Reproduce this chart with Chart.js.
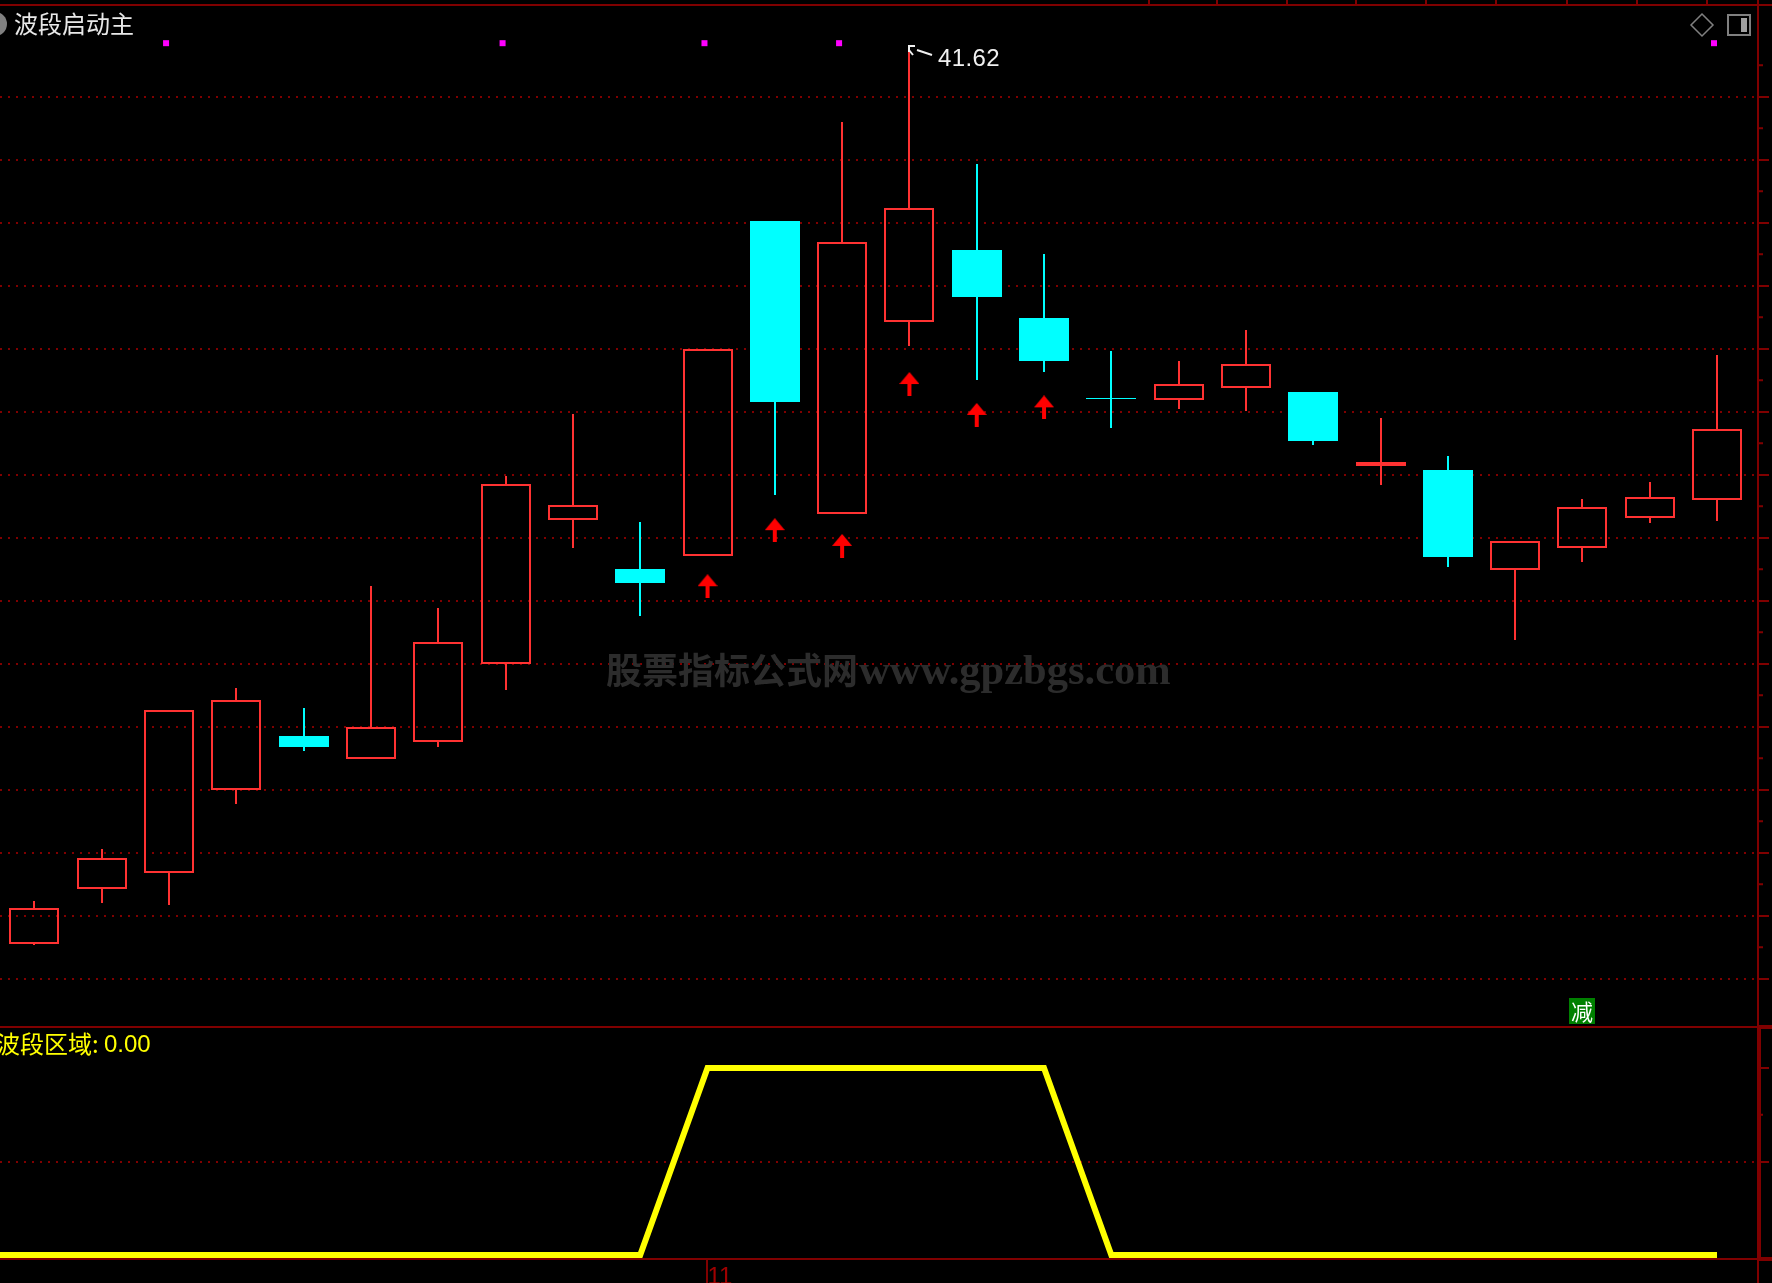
<!DOCTYPE html>
<html>
<head>
<meta charset="utf-8">
<title>波段启动主</title>
<script src="https://cdn.jsdelivr.net/npm/chart.js@4/dist/chart.umd.min.js"></script>
<style>
  html, body { margin: 0; padding: 0; background: #000; overflow: hidden; }
  canvas { display: block; }
</style>
</head>
<body>
<canvas id="kline" width="1772" height="1283"></canvas>
<script>
// K LINE DATA (bar 13 is the marked 41.62 high)
var opens  = [27.46, 28.34, 28.59, 29.90, 30.77, 30.39, 30.66, 31.90, 34.19, 33.42, 33.62, 38.93, 34.28, 37.33, 38.48, 37.40, 36.13, 36.09, 36.29, 36.22, 35.05, 34.98, 33.40, 33.74, 34.23, 34.51];
var closes = [28.04, 28.83, 31.18, 31.34, 30.59, 30.90, 32.26, 34.77, 34.43, 33.19, 36.90, 36.06, 38.61, 39.15, 37.73, 36.72, 36.11, 36.35, 36.67, 35.45, 35.11, 33.60, 33.86, 34.39, 34.55, 35.63];
var highs  = [28.15, 28.97, 31.18, 31.52, 31.20, 33.15, 32.79, 34.89, 35.88, 34.16, 36.90, 38.93, 40.51, 41.62, 39.84, 38.41, 36.88, 36.72, 37.21, 36.22, 35.81, 35.20, 33.86, 34.53, 34.79, 36.81];
var lows   = [27.45, 28.11, 28.08, 29.69, 30.52, 30.39, 30.59, 31.50, 33.75, 32.67, 33.62, 34.59, 34.28, 36.96, 36.42, 36.54, 35.65, 35.95, 35.92, 35.38, 34.75, 33.44, 32.29, 33.53, 34.14, 34.18];

// ARROWS AND SIGNAL DOTS
var arrowBars   = [10, 11, 12, 13, 14, 15];
var arrowPrices = [33.14, 34.03, 33.78, 36.35, 35.86, 35.98];
var dotBars     = [2, 7, 10, 12, 25];
var dotPrice    = 41.76;

// LOWER PANEL, first value is the bar before the visible window
var waveZone = [0, 0, 0, 0, 0, 0, 0, 0, 0, 0, 0, 1, 1, 1, 1, 1, 1, 0, 0, 0, 0, 0, 0, 0, 0, 0, 0];

// AXES
var priceLevels = [40.91, 39.91, 38.91, 37.91, 36.91, 35.91, 34.91, 33.91, 32.91, 31.91, 30.91, 29.91, 28.91, 27.91, 26.91];
var priceMinor  = [41.41, 40.41, 39.41, 38.41, 37.41, 36.41, 35.41, 34.41, 33.41, 32.41, 31.41, 30.41, 29.41, 28.41, 27.41];
var waveLevels  = [1, 0.5];
var waveMinor   = [0.75];
var monthBars   = [10];
var monthLabels = ["11"];
var topTicks    = [1148, 1216, 1286, 1355, 1425, 1495, 1566, 1636, 1706];

var RED = "#ff3232";
var CYAN = "#00ffff";
var FRAME = "#800000";

var bars = opens.map(function (v, i) { return i; });

function toBars(lo, hi) {
  return bars.map(function (i) { return { x: i, y: [lo[i], hi[i]] }; });
}
var bodyTop = bars.map(function (i) { return Math.max(opens[i], closes[i]); });
var bodyBottom = bars.map(function (i) { return Math.min(opens[i], closes[i]); });
var isUp = bars.map(function (i) { return closes[i] >= opens[i]; });
var barColors = isUp.map(function (u) { return u ? RED : CYAN; });
var bodyFill = isUp.map(function (u) { return u ? "transparent" : CYAN; });

// pixel arrow, used as a point style
var arrow = document.createElement("canvas");
arrow.width = 20;
arrow.height = 24;
var ac = arrow.getContext("2d");
ac.fillStyle = "#ff0000";
ac.beginPath();
ac.moveTo(10, 0);
ac.lineTo(20, 12);
ac.lineTo(0, 12);
ac.fill();
ac.fillRect(8, 12, 4, 12);

function hline(ctx, x1, x2, y, w) {
  ctx.fillRect(x1, y - w / 2, x2 - x1, w);
}

// keep the bars on whole pixels, the original is not antialiased
var snapBars = {
  id: "snapBars",
  afterDatasetsUpdate: function (chart) {
    chart.data.datasets.forEach(function (ds, i) {
      if (ds.type !== "bar") return;
      chart.getDatasetMeta(i).data.forEach(function (el) {
        el.x = Math.round(el.x);
        el.y = Math.round(el.y);
        el.base = Math.round(el.base);
      });
    });
  }
};

var panelDecor = {
  id: "panelDecor",
  beforeDatasetsDraw: function (chart) {
    var ctx = chart.ctx;
    ctx.save();
    ctx.fillStyle = "#2c2c2c";
    ctx.textBaseline = "alphabetic";
    ctx.font = "bold 36px 'Noto Sans CJK SC'";
    ctx.fillText("股票指标公式网", 606, 684);
    ctx.font = "bold 42.5px 'Liberation Serif'";
    ctx.fillText("www.gpzbgs.com", 859, 684);
    ctx.restore();
  },
  afterDraw: function (chart) {
    var ctx = chart.ctx;
    var xs = chart.scales.x, ys = chart.scales.y, ys2 = chart.scales.y2;
    ctx.save();

    // frame lines
    ctx.fillStyle = FRAME;
    hline(ctx, 0, 1772, ys.top, 2);
    hline(ctx, 0, 1757, ys2.top, 2);
    hline(ctx, 1757, 1772, ys2.top, 4);
    hline(ctx, 0, 1757, ys2.bottom, 2);
    hline(ctx, 1757, 1772, ys2.bottom, 4);
    ctx.fillRect(1757, 0, 2, 1283);
    ctx.fillRect(1757, ys2.top, 4, ys2.bottom - ys2.top);
    topTicks.forEach(function (x) { ctx.fillRect(x, 0, 2, 5); });
    priceMinor.forEach(function (v) { hline(ctx, 1759, 1763, ys.getPixelForValue(v), 2); });
    waveMinor.forEach(function (v) { hline(ctx, 1759, 1763, ys2.getPixelForValue(v), 2); });
    monthBars.forEach(function (b) { ctx.fillRect(Math.round(xs.getPixelForValue(b)) - 2, ys2.bottom, 2, 24); });

    // titles
    ctx.textBaseline = "alphabetic";
    ctx.fillStyle = "#808080";
    ctx.beginPath();
    ctx.arc(-5, 24, 12, 0, Math.PI * 2);
    ctx.fill();
    ctx.fillStyle = "#e8e8e8";
    ctx.font = "24px 'Noto Sans CJK SC'";
    ctx.fillText("波段启动主", 14, 33);
    ctx.fillStyle = "#ffff00";
    ctx.font = "24px 'Noto Sans CJK SC'";
    ctx.fillText("波段区域:", -4, 1053);
    ctx.font = "24px 'Liberation Sans'";
    ctx.fillText("0.00", 104, 1052);

    // highest price mark
    var hx = Math.round(xs.getPixelForValue(13)), hy = Math.round(ys.getPixelForValue(highs[13]));
    ctx.strokeStyle = "#f0f0f0";
    ctx.lineWidth = 2;
    ctx.beginPath();
    ctx.moveTo(hx + 6, hy - 6);
    ctx.lineTo(hx, hy - 6);
    ctx.lineTo(hx, hy);
    ctx.moveTo(hx, hy - 2);
    ctx.lineTo(hx + 4, hy + 3);
    ctx.moveTo(hx + 8, hy - 2);
    ctx.lineTo(hx + 23, hy + 3);
    ctx.stroke();
    ctx.fillStyle = "#f0f0f0";
    ctx.font = "24px 'Liberation Sans'";
    ctx.letterSpacing = "0.4px";
    ctx.fillText(highs[13].toFixed(2), hx + 29, hy + 14);
    ctx.letterSpacing = "0px";

    // reduce badge
    var bx = Math.round(xs.getPixelForValue(23)), by = Math.round(ys.getPixelForValue(26.4));
    ctx.fillStyle = "#008000";
    ctx.fillRect(bx - 13, by - 13, 26, 26);
    ctx.fillStyle = "#ffffff";
    ctx.font = "22px 'Noto Sans CJK SC'";
    ctx.textAlign = "center";
    ctx.textBaseline = "middle";
    ctx.fillText("减", bx, by + 1);
    ctx.textAlign = "left";

    // top right icons
    ctx.strokeStyle = "#808080";
    ctx.lineWidth = 1.5;
    ctx.beginPath();
    ctx.moveTo(1702, 14);
    ctx.lineTo(1713, 25);
    ctx.lineTo(1702, 36);
    ctx.lineTo(1691, 25);
    ctx.closePath();
    ctx.stroke();
    ctx.lineWidth = 2;
    ctx.strokeRect(1728, 15, 22, 20);
    ctx.fillStyle = "#a0a0a0";
    ctx.fillRect(1741, 18, 6, 14);
    ctx.restore();
  }
};

new Chart("kline", {
  data: {
    datasets: [
      {
        type: "line",
        data: waveZone.map(function (v, i) { return { x: i - 1, y: v }; }),
        yAxisID: "y2",
        borderColor: "#ffff00",
        borderWidth: 6,
        borderJoinStyle: "miter",
        pointRadius: 0,
        tension: 0,
      },
      {
        type: "bar",
        data: toBars(bodyTop, highs),
        backgroundColor: barColors,
        barThickness: 2,
        grouped: false,
        inflateAmount: 0,
        yAxisID: "y",
      },
      {
        type: "bar",
        data: toBars(lows, bodyBottom),
        backgroundColor: barColors,
        barThickness: 2,
        grouped: false,
        inflateAmount: 0,
        yAxisID: "y",
      },
      {
        type: "bar",
        data: toBars(opens, closes),
        backgroundColor: bodyFill,
        borderColor: barColors,
        borderWidth: 2,
        borderSkipped: false,
        barThickness: 50,
        grouped: false,
        inflateAmount: 0,
        yAxisID: "y",
      },
      {
        type: "scatter",
        data: arrowBars.map(function (b, i) { return { x: b, y: arrowPrices[i] }; }),
        pointStyle: arrow,
        yAxisID: "y",
      },
      {
        type: "scatter",
        // the dots sit a little left of the bar centre
        data: dotBars.map(function (b) { return { x: b - 0.045, y: dotPrice }; }),
        pointStyle: "rect",
        pointRadius: 4.25,
        backgroundColor: "#ff00ff",
        borderWidth: 0,
        yAxisID: "y",
      },
    ],
  },
  options: {
    responsive: false,
    animation: false,
    events: [],
    layout: { padding: { top: 5, left: 0, right: 0, bottom: 0 }, autoPadding: false },
    plugins: { legend: { display: false }, tooltip: { enabled: false } },
    scales: {
      x: {
        type: "linear",
        offset: false,
        min: -0.5126,
        max: 25.609,
        afterBuildTicks: function (s) {
          s.ticks = monthBars.map(function (b) { return { value: b }; });
        },
        afterFit: function (s) { s.height = 24; },
        grid: { display: false, drawTicks: false },
        border: { display: false },
        ticks: {
          color: "#a00000",
          font: { family: "Liberation Sans", size: 24 },
          align: "start",
          padding: 4,
          maxRotation: 0,
          autoSkip: false,
          callback: function (v) { return monthLabels[monthBars.indexOf(v)]; },
        },
      },
      y: {
        position: "right",
        stack: "panels",
        stackWeight: 1022,
        min: 26.144,
        max: 42.366,
        afterBuildTicks: function (s) {
          s.ticks = priceLevels.map(function (v) { return { value: v }; });
        },
        afterFit: function (s) { s.width = 14; },
        grid: {
          color: FRAME,
          lineWidth: 2,
          tickColor: FRAME,
          tickBorderDash: [],
          tickLength: 11,
        },
        border: { display: false, dash: [2, 6] },
        ticks: { display: false },
      },
      y2: {
        position: "right",
        stack: "panels",
        stackWeight: 232,
        min: -0.021,
        max: 1.219,
        afterBuildTicks: function (s) {
          s.ticks = waveLevels.map(function (v) { return { value: v }; });
        },
        afterFit: function (s) { s.width = 14; },
        grid: {
          color: function (c) { return c.tick && c.tick.value === 0.5 ? FRAME : "transparent"; },
          lineWidth: 2,
          tickColor: FRAME,
          tickBorderDash: [],
          tickLength: 11,
        },
        border: { display: false, dash: [2, 6] },
        ticks: { display: false },
      },
    },
  },
  plugins: [snapBars, panelDecor],
});
</script>
</body>
</html>
